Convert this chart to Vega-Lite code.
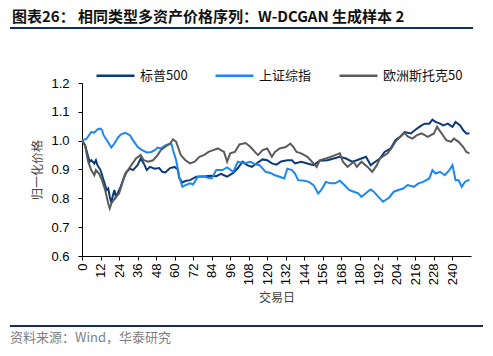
{
  "$schema": "https://vega.github.io/schema/vega-lite/v6.json",
  "autosize": "none",
  "width": 389,
  "height": 173,
  "padding": {"left": 82, "top": 83, "right": 22, "bottom": 100},
  "background": "white",
  "title": {
    "text": "图表26：  相同类型多资产价格序列：W-DCGAN 生成样本 2",
    "anchor": "start",
    "frame": "group",
    "dx": -70,
    "offset": 2,
    "font": "Noto Sans CJK SC",
    "fontSize": 15,
    "fontWeight": "bold",
    "color": "#111111"
  },
  "config": {
    "view": {"stroke": null},
    "axis": {"grid": false, "domainColor": "#000000", "tickColor": "#000000", "labelColor": "#000000", "labelFont": "Liberation Sans", "labelFontSize": 13, "titleFont": "Noto Sans CJK SC", "titleFontSize": 12, "titleFontWeight": "normal", "titleColor": "#444444", "tickSize": 4}
  },
  "layer": [
    {
      "data": {"values": [
        {"d":0,"s":"标普500","v":1.000},{"d":2,"s":"标普500","v":0.984},{"d":4,"s":"标普500","v":0.944},{"d":5,"s":"标普500","v":0.927},{"d":6,"s":"标普500","v":0.932},{"d":8,"s":"标普500","v":0.921},{"d":9,"s":"标普500","v":0.932},{"d":10,"s":"标普500","v":0.915},{"d":12,"s":"标普500","v":0.898},{"d":14,"s":"标普500","v":0.863},{"d":16,"s":"标普500","v":0.829},{"d":17,"s":"标普500","v":0.834},{"d":18,"s":"标普500","v":0.805},{"d":19,"s":"标普500","v":0.785},{"d":20,"s":"标普500","v":0.810},{"d":21,"s":"标普500","v":0.829},{"d":22,"s":"标普500","v":0.805},{"d":25,"s":"标普500","v":0.840},{"d":27,"s":"标普500","v":0.869},{"d":29,"s":"标普500","v":0.892},{"d":31,"s":"标普500","v":0.903},{"d":33,"s":"标普500","v":0.898},{"d":36,"s":"标普500","v":0.915},{"d":38,"s":"标普500","v":0.938},{"d":40,"s":"标普500","v":0.921},{"d":42,"s":"标普500","v":0.898},{"d":44,"s":"标普500","v":0.909},{"d":47,"s":"标普500","v":0.903},{"d":50,"s":"标普500","v":0.905},{"d":52,"s":"标普500","v":0.892},{"d":54,"s":"标普500","v":0.890},{"d":57,"s":"标普500","v":0.905},{"d":60,"s":"标普500","v":0.909},{"d":62,"s":"标普500","v":0.900},{"d":63,"s":"标普500","v":0.870},{"d":65,"s":"标普500","v":0.855},{"d":67,"s":"标普500","v":0.860},{"d":70,"s":"标普500","v":0.863},{"d":74,"s":"标普500","v":0.875},{"d":79,"s":"标普500","v":0.876},{"d":83,"s":"标普500","v":0.878},{"d":87,"s":"标普500","v":0.877},{"d":90,"s":"标普500","v":0.885},{"d":92,"s":"标普500","v":0.880},{"d":94,"s":"标普500","v":0.875},{"d":98,"s":"标普500","v":0.888},{"d":101,"s":"标普500","v":0.905},{"d":104,"s":"标普500","v":0.927},{"d":107,"s":"标普500","v":0.915},{"d":110,"s":"标普500","v":0.909},{"d":113,"s":"标普500","v":0.921},{"d":117,"s":"标普500","v":0.935},{"d":120,"s":"标普500","v":0.932},{"d":123,"s":"标普500","v":0.921},{"d":126,"s":"标普500","v":0.917},{"d":129,"s":"标普500","v":0.928},{"d":133,"s":"标普500","v":0.932},{"d":136,"s":"标普500","v":0.932},{"d":138,"s":"标普500","v":0.921},{"d":142,"s":"标普500","v":0.927},{"d":146,"s":"标普500","v":0.921},{"d":150,"s":"标普500","v":0.915},{"d":154,"s":"标普500","v":0.930},{"d":159,"s":"标普500","v":0.932},{"d":163,"s":"标普500","v":0.938},{"d":167,"s":"标普500","v":0.944},{"d":171,"s":"标普500","v":0.938},{"d":175,"s":"标普500","v":0.927},{"d":178,"s":"标普500","v":0.932},{"d":181,"s":"标普500","v":0.938},{"d":184,"s":"标普500","v":0.944},{"d":187,"s":"标普500","v":0.915},{"d":190,"s":"标普500","v":0.927},{"d":193,"s":"标普500","v":0.938},{"d":196,"s":"标普500","v":0.961},{"d":200,"s":"标普500","v":0.973},{"d":203,"s":"标普500","v":1.002},{"d":206,"s":"标普500","v":1.013},{"d":209,"s":"标普500","v":1.030},{"d":213,"s":"标普500","v":1.025},{"d":217,"s":"标普500","v":1.042},{"d":220,"s":"标普500","v":1.053},{"d":222,"s":"标普500","v":1.059},{"d":225,"s":"标普500","v":1.059},{"d":227,"s":"标普500","v":1.073},{"d":229,"s":"标普500","v":1.065},{"d":232,"s":"标普500","v":1.059},{"d":234,"s":"标普500","v":1.053},{"d":237,"s":"标普500","v":1.059},{"d":240,"s":"标普500","v":1.048},{"d":242,"s":"标普500","v":1.065},{"d":245,"s":"标普500","v":1.053},{"d":247,"s":"标普500","v":1.036},{"d":249,"s":"标普500","v":1.025},{"d":251,"s":"标普500","v":1.025},

        {"d":0,"s":"上证综指","v":1.000},{"d":3,"s":"上证综指","v":1.007},{"d":6,"s":"上证综指","v":1.030},{"d":8,"s":"上证综指","v":1.028},{"d":10,"s":"上证综指","v":1.039},{"d":12,"s":"上证综指","v":1.042},{"d":13,"s":"上证综指","v":1.036},{"d":14,"s":"上证综指","v":1.019},{"d":16,"s":"上证综指","v":1.002},{"d":19,"s":"上证综指","v":0.976},{"d":21,"s":"上证综指","v":0.990},{"d":23,"s":"上证综指","v":1.008},{"d":25,"s":"上证综指","v":1.021},{"d":28,"s":"上证综指","v":1.027},{"d":31,"s":"上证综指","v":1.019},{"d":33,"s":"上证综指","v":1.002},{"d":36,"s":"上证综指","v":0.979},{"d":39,"s":"上证综指","v":0.967},{"d":42,"s":"上证综指","v":0.959},{"d":45,"s":"上证综指","v":0.961},{"d":47,"s":"上证综指","v":0.967},{"d":49,"s":"上证综指","v":0.976},{"d":51,"s":"上证综指","v":0.973},{"d":54,"s":"上证综指","v":0.984},{"d":56,"s":"上证综指","v":0.988},{"d":58,"s":"上证综指","v":0.988},{"d":59,"s":"上证综指","v":0.967},{"d":61,"s":"上证综指","v":0.932},{"d":63,"s":"上证综指","v":0.875},{"d":65,"s":"上证综指","v":0.840},{"d":67,"s":"上证综指","v":0.846},{"d":70,"s":"上证综指","v":0.852},{"d":72,"s":"上证综指","v":0.848},{"d":75,"s":"上证综指","v":0.875},{"d":78,"s":"上证综指","v":0.877},{"d":81,"s":"上证综指","v":0.872},{"d":84,"s":"上证综指","v":0.869},{"d":87,"s":"上证综指","v":0.898},{"d":91,"s":"上证综指","v":0.898},{"d":94,"s":"上证综指","v":0.907},{"d":98,"s":"上证综指","v":0.892},{"d":101,"s":"上证综指","v":0.927},{"d":105,"s":"上证综指","v":0.921},{"d":109,"s":"上证综指","v":0.927},{"d":112,"s":"上证综指","v":0.919},{"d":115,"s":"上证综指","v":0.915},{"d":119,"s":"上证综指","v":0.892},{"d":122,"s":"上证综指","v":0.888},{"d":125,"s":"上证综指","v":0.880},{"d":128,"s":"上证综指","v":0.875},{"d":131,"s":"上证综指","v":0.869},{"d":133,"s":"上证综指","v":0.903},{"d":136,"s":"上证综指","v":0.898},{"d":138,"s":"上证综指","v":0.886},{"d":140,"s":"上证综指","v":0.863},{"d":144,"s":"上证综指","v":0.861},{"d":147,"s":"上证综指","v":0.857},{"d":150,"s":"上证综指","v":0.846},{"d":153,"s":"上证综指","v":0.817},{"d":155,"s":"上证综指","v":0.829},{"d":158,"s":"上证综指","v":0.857},{"d":161,"s":"上证综指","v":0.852},{"d":164,"s":"上证综指","v":0.852},{"d":167,"s":"上证综指","v":0.861},{"d":170,"s":"上证综指","v":0.846},{"d":173,"s":"上证综指","v":0.829},{"d":176,"s":"上证综指","v":0.823},{"d":179,"s":"上证综指","v":0.817},{"d":181,"s":"上证综指","v":0.805},{"d":185,"s":"上证综指","v":0.823},{"d":187,"s":"上证综指","v":0.831},{"d":189,"s":"上证综指","v":0.823},{"d":192,"s":"上证综指","v":0.805},{"d":195,"s":"上证综指","v":0.788},{"d":199,"s":"上证综指","v":0.803},{"d":202,"s":"上证综指","v":0.823},{"d":205,"s":"上证综指","v":0.829},{"d":208,"s":"上证综指","v":0.834},{"d":211,"s":"上证综指","v":0.846},{"d":215,"s":"上证综指","v":0.840},{"d":218,"s":"上证综指","v":0.852},{"d":221,"s":"上证综指","v":0.857},{"d":225,"s":"上证综指","v":0.869},{"d":227,"s":"上证综指","v":0.898},{"d":229,"s":"上证综指","v":0.886},{"d":232,"s":"上证综指","v":0.892},{"d":235,"s":"上证综指","v":0.880},{"d":238,"s":"上证综指","v":0.898},{"d":240,"s":"上证综指","v":0.915},{"d":242,"s":"上证综指","v":0.863},{"d":244,"s":"上证综指","v":0.863},{"d":246,"s":"上证综指","v":0.840},{"d":248,"s":"上证综指","v":0.857},{"d":251,"s":"上证综指","v":0.865},

        {"d":0,"s":"欧洲斯托克50","v":1.000},{"d":2,"s":"欧洲斯托克50","v":0.984},{"d":4,"s":"欧洲斯托克50","v":0.927},{"d":6,"s":"欧洲斯托克50","v":0.898},{"d":8,"s":"欧洲斯托克50","v":0.880},{"d":9,"s":"欧洲斯托克50","v":0.898},{"d":11,"s":"欧洲斯托克50","v":0.886},{"d":13,"s":"欧洲斯托克50","v":0.863},{"d":15,"s":"欧洲斯托克50","v":0.829},{"d":17,"s":"欧洲斯托克50","v":0.782},{"d":18,"s":"欧洲斯托克50","v":0.765},{"d":19,"s":"欧洲斯托克50","v":0.782},{"d":22,"s":"欧洲斯托克50","v":0.805},{"d":24,"s":"欧洲斯托克50","v":0.817},{"d":26,"s":"欧洲斯托克50","v":0.851},{"d":28,"s":"欧洲斯托克50","v":0.886},{"d":30,"s":"欧洲斯托克50","v":0.900},{"d":32,"s":"欧洲斯托克50","v":0.915},{"d":35,"s":"欧洲斯托克50","v":0.938},{"d":38,"s":"欧洲斯托克50","v":0.950},{"d":40,"s":"欧洲斯托克50","v":0.932},{"d":43,"s":"欧洲斯托克50","v":0.927},{"d":46,"s":"欧洲斯托克50","v":0.932},{"d":49,"s":"欧洲斯托克50","v":0.950},{"d":51,"s":"欧洲斯托克50","v":0.967},{"d":54,"s":"欧洲斯托克50","v":0.979},{"d":57,"s":"欧洲斯托克50","v":0.990},{"d":59,"s":"欧洲斯托克50","v":1.004},{"d":61,"s":"欧洲斯托克50","v":0.996},{"d":64,"s":"欧洲斯托克50","v":0.950},{"d":67,"s":"欧洲斯托克50","v":0.932},{"d":70,"s":"欧洲斯托克50","v":0.921},{"d":73,"s":"欧洲斯托克50","v":0.927},{"d":76,"s":"欧洲斯托克50","v":0.944},{"d":79,"s":"欧洲斯托克50","v":0.950},{"d":82,"s":"欧洲斯托克50","v":0.961},{"d":85,"s":"欧洲斯托克50","v":0.967},{"d":88,"s":"欧洲斯托克50","v":0.973},{"d":92,"s":"欧洲斯托克50","v":0.961},{"d":94,"s":"欧洲斯托克50","v":0.927},{"d":96,"s":"欧洲斯托克50","v":0.956},{"d":99,"s":"欧洲斯托克50","v":0.961},{"d":102,"s":"欧洲斯托克50","v":0.987},{"d":106,"s":"欧洲斯托克50","v":0.992},{"d":109,"s":"欧洲斯托克50","v":0.979},{"d":112,"s":"欧洲斯托克50","v":0.961},{"d":114,"s":"欧洲斯托克50","v":0.950},{"d":117,"s":"欧洲斯托克50","v":0.967},{"d":120,"s":"欧洲斯托克50","v":0.973},{"d":123,"s":"欧洲斯托克50","v":0.944},{"d":125,"s":"欧洲斯托克50","v":0.961},{"d":128,"s":"欧洲斯托克50","v":0.973},{"d":132,"s":"欧洲斯托克50","v":0.978},{"d":135,"s":"欧洲斯托克50","v":0.990},{"d":137,"s":"欧洲斯托克50","v":0.978},{"d":139,"s":"欧洲斯托克50","v":0.961},{"d":142,"s":"欧洲斯托克50","v":0.956},{"d":146,"s":"欧洲斯托克50","v":0.944},{"d":149,"s":"欧洲斯托克50","v":0.927},{"d":152,"s":"欧洲斯托克50","v":0.909},{"d":154,"s":"欧洲斯托克50","v":0.932},{"d":158,"s":"欧洲斯托克50","v":0.938},{"d":161,"s":"欧洲斯托克50","v":0.944},{"d":164,"s":"欧洲斯托克50","v":0.950},{"d":167,"s":"欧洲斯托克50","v":0.956},{"d":169,"s":"欧洲斯托克50","v":0.927},{"d":172,"s":"欧洲斯托克50","v":0.909},{"d":176,"s":"欧洲斯托克50","v":0.927},{"d":178,"s":"欧洲斯托克50","v":0.909},{"d":181,"s":"欧洲斯托克50","v":0.927},{"d":185,"s":"欧洲斯托克50","v":0.909},{"d":188,"s":"欧洲斯托克50","v":0.892},{"d":191,"s":"欧洲斯托克50","v":0.915},{"d":193,"s":"欧洲斯托克50","v":0.938},{"d":198,"s":"欧洲斯托克50","v":0.956},{"d":201,"s":"欧洲斯托克50","v":0.978},{"d":203,"s":"欧洲斯托克50","v":0.996},{"d":206,"s":"欧洲斯托克50","v":1.013},{"d":209,"s":"欧洲斯托克50","v":1.027},{"d":211,"s":"欧洲斯托克50","v":1.015},{"d":214,"s":"欧洲斯托克50","v":1.007},{"d":217,"s":"欧洲斯托克50","v":1.019},{"d":220,"s":"欧洲斯托克50","v":1.025},{"d":224,"s":"欧洲斯托克50","v":1.013},{"d":228,"s":"欧洲斯托克50","v":1.025},{"d":230,"s":"欧洲斯托克50","v":1.048},{"d":233,"s":"欧洲斯托克50","v":1.025},{"d":236,"s":"欧洲斯托克50","v":1.002},{"d":239,"s":"欧洲斯托克50","v":0.996},{"d":241,"s":"欧洲斯托克50","v":1.007},{"d":244,"s":"欧洲斯托克50","v":0.996},{"d":247,"s":"欧洲斯托克50","v":0.978},{"d":249,"s":"欧洲斯托克50","v":0.961},{"d":251,"s":"欧洲斯托克50","v":0.956}
      ]},
      "mark": {"type": "line", "strokeWidth": 2, "interpolate": "linear"},
      "encoding": {
        "x": {"field": "d", "type": "quantitative", "title": "交易日",
          "scale": {"domain": [0, 252], "nice": false, "zero": false},
          "axis": {"values": [0,12,24,36,48,60,72,84,96,108,120,132,144,156,168,180,192,204,216,228,240], "labelAngle": -90, "labelPadding": 3, "titlePadding": 8, "labelFlush": false, "labelOverlap": false}},
        "y": {"field": "v", "type": "quantitative", "title": "归一化价格",
          "scale": {"domain": [0.6, 1.2], "nice": false, "zero": false},
          "axis": {"values": [0.6,0.7,0.8,0.9,1.0,1.1,1.2], "format": ".1f", "labelPadding": 9, "titlePadding": 6, "labelFlush": false}},
        "color": {"field": "s", "type": "nominal",
          "scale": {"domain": ["标普500", "上证综指", "欧洲斯托克50"], "range": ["#0B3A78", "#1B87F0", "#5B5B5B"]},
          "legend": {"title": null, "orient": "none", "legendX": 13, "legendY": -28, "direction": "horizontal",
            "symbolType": "stroke", "symbolSize": 1444, "symbolStrokeWidth": 2.5,
            "labelFont": "Noto Sans CJK SC", "labelFontSize": 13, "labelColor": "#111111",
            "labelOffset": 4, "columnPadding": 22, "padding": 0}}
      }
    },
    {
      "data": {"values": [{"k": "top"}]},
      "mark": {"type": "rule", "color": "#0E2F65", "strokeWidth": 2.2},
      "encoding": {"x": {"value": -72}, "x2": {"value": 391}, "y": {"value": -55}}
    },
    {
      "data": {"values": [{"k": "bottom"}]},
      "mark": {"type": "rule", "color": "#0E2F65", "strokeWidth": 2.2},
      "encoding": {"x": {"value": -72}, "x2": {"value": 401}, "y": {"value": 243}}
    },
    {
      "data": {"values": [{"t": "资料来源：Wind，华泰研究"}]},
      "mark": {"type": "text", "align": "left", "baseline": "middle", "font": "Noto Sans CJK SC", "fontSize": 13, "color": "#7F7F7F"},
      "encoding": {"text": {"field": "t"}, "x": {"value": -72}, "y": {"value": 255}}
    }
  ]
}
